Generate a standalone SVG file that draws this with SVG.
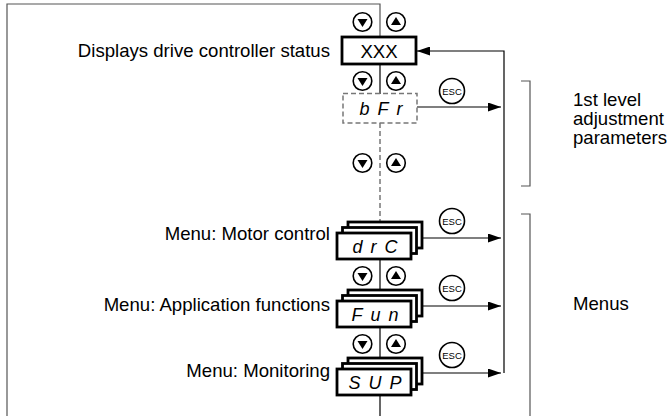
<svg xmlns="http://www.w3.org/2000/svg" width="670" height="416" viewBox="0 0 670 416">
<style>
.lbl{font-family:"Liberation Sans",Arial,sans-serif;font-size:18.6px;fill:#000}
.rl{text-anchor:end}
.seg{font-family:"Liberation Sans",Arial,sans-serif;font-style:italic;font-size:18px;text-anchor:middle;letter-spacing:8px;fill:#000}
.esc{font-family:"Liberation Sans",Arial,sans-serif;font-size:9.5px;text-anchor:middle;fill:#000}
.box{fill:#fff;stroke:#000;stroke-width:2.8}
.btn{fill:#fff;stroke:#000;stroke-width:1.6}
.ln{fill:none;stroke:#000;stroke-width:1.2}
.gl{fill:none;stroke:#555;stroke-width:1.2}
.dash{fill:none;stroke:#777;stroke-width:1.5;stroke-dasharray:5,3}
</style>
<defs>
<marker id="ah" markerWidth="13" markerHeight="9" refX="13" refY="4.5" orient="auto" markerUnits="userSpaceOnUse">
<path d="M0,0 L13,4.5 L0,9 Z" fill="#000"/>
</marker>
<g id="bdown"><circle r="9.3" class="btn"/><path d="M-5,-3 L5,-3 L0,5 Z" fill="#000"/></g>
<g id="bup"><circle r="9.3" class="btn"/><path d="M-5,3 L5,3 L0,-5 Z" fill="#000"/></g>
<g id="escb"><circle r="12.5" class="btn" stroke-width="1.2"/><text y="3.5" class="esc">ESC</text></g>
<g id="stack">
<rect x="11" y="0" width="74" height="26" class="box"/>
<rect x="5.5" y="5.5" width="74" height="26" class="box"/>
<rect x="0" y="11" width="74" height="26" class="box"/>
</g>
</defs>

<g id="connectors">
<path class="gl" d="M7,416 L7,4 L380,4 L380,37"/>
<line class="ln" x1="380" y1="64" x2="380" y2="94"/>
<line class="dash" x1="380" y1="123" x2="380" y2="222"/>
<line class="ln" x1="380" y1="259" x2="380" y2="290"/>
<line class="ln" x1="380" y1="327" x2="380" y2="358"/>
<line class="ln" x1="380" y1="395" x2="380" y2="416"/>
<path class="ln" d="M504,373 L504,51 L417,51" marker-end="url(#ah)"/>
<line class="ln" x1="417" y1="107" x2="501" y2="107" marker-end="url(#ah)"/>
<line class="ln" x1="422" y1="238" x2="501" y2="238" marker-end="url(#ah)"/>
<line class="ln" x1="422" y1="306" x2="501" y2="306" marker-end="url(#ah)"/>
<line class="ln" x1="422" y1="373" x2="501" y2="373" marker-end="url(#ah)"/>
<path class="gl" d="M521,81 L530,81 L530,186 L521,186"/>
<path class="gl" d="M521,214 L530,214 L530,416"/>
</g>

<g id="status">
<rect x="342" y="37" width="74" height="27" class="box"/>
<text x="379" y="57.5" class="lbl" text-anchor="middle">XXX</text>
<text x="330" y="56.5" class="lbl rl">Displays drive controller status</text>
</g>
<g id="btns1"><use href="#bdown" x="362.5" y="22"/><use href="#bup" x="396" y="22"/></g>
<g id="btns2"><use href="#bdown" x="362.5" y="81"/><use href="#bup" x="396" y="81"/></g>

<g id="bfr">
<rect x="343" y="93.5" width="74" height="29.5" fill="#fff" class="dash"/>
<text x="385" y="115" class="seg">bFr</text>
</g>
<g id="esc1"><use href="#escb" x="452" y="91"/></g>
<g id="btns3"><use href="#bdown" x="362.5" y="163"/><use href="#bup" x="396" y="163"/></g>

<g id="drc">
<use href="#stack" x="337" y="222"/>
<text x="379" y="253" class="seg">drC</text>
<text x="330" y="239.5" class="lbl rl">Menu: Motor control</text>
</g>
<g id="esc2"><use href="#escb" x="452" y="221"/></g>
<g id="btns4"><use href="#bdown" x="362.5" y="276"/><use href="#bup" x="396" y="276"/></g>

<g id="fun">
<use href="#stack" x="337" y="290"/>
<text x="379" y="321" class="seg">Fun</text>
<text x="330" y="311" class="lbl rl">Menu: Application functions</text>
</g>
<g id="esc3"><use href="#escb" x="452" y="288"/></g>
<g id="btns5"><use href="#bdown" x="362.5" y="344"/><use href="#bup" x="396" y="344"/></g>

<g id="sup">
<use href="#stack" x="337" y="358"/>
<text x="379" y="389" class="seg">SUP</text>
<text x="330" y="377" class="lbl rl">Menu: Monitoring</text>
</g>
<g id="esc4"><use href="#escb" x="452" y="355"/></g>

<g id="lvl1">
<text x="573" y="106" class="lbl">1st level</text>
<text x="573" y="125" class="lbl">adjustment</text>
<text x="573" y="144" class="lbl">parameters</text>
</g>
<g id="menus">
<text x="573" y="310" class="lbl">Menus</text>
</g>
</svg>
